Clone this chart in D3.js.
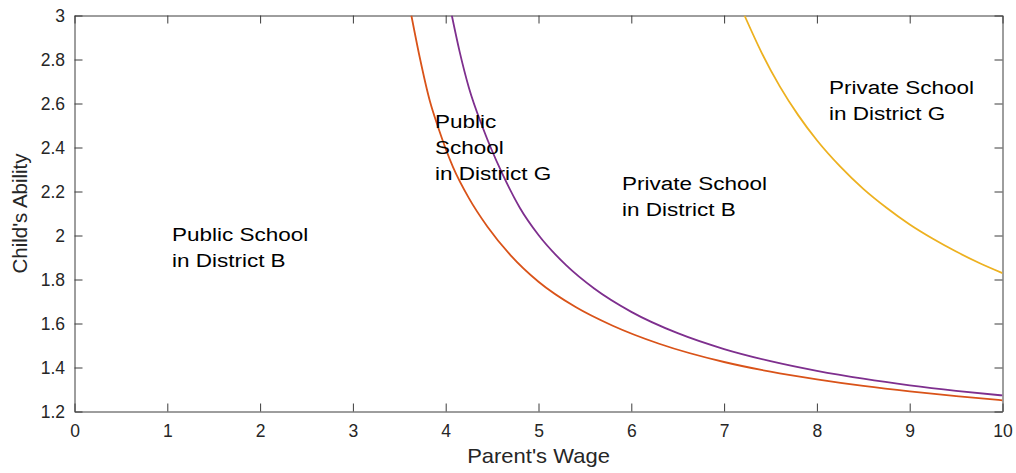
<!DOCTYPE html>
<html>
<head>
<meta charset="utf-8">
<script src="https://cdn.jsdelivr.net/npm/d3@7"></script>
<style>
  html, body { margin: 0; padding: 0; background: #fff; }
  svg { display: block; }
</style>
</head>
<body>
<svg id="chart" width="1016" height="473"></svg>
<script>
// Axis ticks
const xTickValues = [0, 1, 2, 3, 4, 5, 6, 7, 8, 9, 10];
const yTickValues = [1.2, 1.4, 1.6, 1.8, 2, 2.2, 2.4, 2.6, 2.8, 3];

// Threshold: public school in District B  vs  public school in District G
const wageCut1 = [3.63, 3.72, 3.83, 3.92, 4.08, 4.25, 4.45, 4.7, 5.0, 5.4, 5.8, 6.3, 7.0, 7.5, 8.0, 8.5, 9.0, 9.5, 10];
const abilityCut1 = [3.00, 2.81, 2.61, 2.49, 2.31, 2.17, 2.04, 1.91, 1.79, 1.675, 1.59, 1.508, 1.425, 1.381, 1.346, 1.316, 1.291, 1.270, 1.251];

// Threshold: public school in District G  vs  private school in District B
const wageCut2 = [4.066, 4.15, 4.25, 4.4, 4.6, 4.8, 5.0, 5.3, 5.6, 6.0, 6.5, 7.0, 7.5, 8.0, 8.5, 9.0, 9.5, 10];
const abilityCut2 = [3.00, 2.836, 2.672, 2.49, 2.29, 2.125, 2.002, 1.864, 1.759, 1.653, 1.556, 1.484, 1.429, 1.385, 1.349, 1.319, 1.294, 1.273];

// Threshold: private school in District B  vs  private school in District G
const wageCut3 = [7.22, 7.4, 7.6, 7.8, 8.0, 8.25, 8.5, 8.75, 9.0, 9.25, 9.5, 9.75, 10];
const abilityCut3 = [3.00, 2.835, 2.678, 2.546, 2.433, 2.314, 2.212, 2.126, 2.050, 1.985, 1.927, 1.875, 1.829];

// Region names
const regionNames = [
  ["Public School", "in District B"],
  ["Public", "School", "in District G"],
  ["Private School", "in District B"],
  ["Private School", "in District G"]
];

const svg = d3.select("#chart");
const plotLeft = 74.5, plotRight = 1002.5, plotTop = 15.5, plotBottom = 411.5;

const x = d3.scaleLinear().domain([0, 10]).range([plotLeft, plotRight]);
const y = d3.scaleLinear().domain([1.2, 3]).range([plotBottom, plotTop]);

const axisColor = "#3c3c3c";
const fontFamily = "Liberation Sans, Arial, Helvetica, sans-serif";

svg.append("defs").append("clipPath").attr("id", "plotClip")
  .append("rect").attr("x", plotLeft).attr("y", plotTop)
  .attr("width", plotRight - plotLeft).attr("height", plotBottom - plotTop);

// Axes, ticks pointing inward (bottom/left labelled, top/right mirrored)
const tickLen = 8;
const bottomAxis = d3.axisBottom(x).tickValues(xTickValues).tickSizeInner(-tickLen).tickSizeOuter(0).tickFormat(d3.format("d"));
const topAxis = d3.axisTop(x).tickValues(xTickValues).tickSizeInner(-tickLen).tickSizeOuter(0).tickFormat("");
const leftAxis = d3.axisLeft(y).tickValues(yTickValues).tickSizeInner(-tickLen).tickSizeOuter(0).tickFormat(d => String(+d.toFixed(1)));
const rightAxis = d3.axisRight(y).tickValues(yTickValues).tickSizeInner(-tickLen).tickSizeOuter(0).tickFormat("");

function styleAxis(g) {
  g.select(".domain").attr("stroke", axisColor).attr("stroke-width", 1);
  g.selectAll(".tick line").attr("stroke", axisColor).attr("stroke-width", 1);
  g.selectAll(".tick text").attr("fill", "#262626")
    .style("font-family", fontFamily).style("font-size", "17.5px");
}

svg.append("g").attr("transform", `translate(0,${plotBottom})`).call(bottomAxis).call(styleAxis)
  .selectAll(".tick text").attr("dy", null).attr("y", 25.5);
svg.append("g").attr("transform", `translate(0,${plotTop})`).call(topAxis).call(styleAxis);
svg.append("g").attr("transform", `translate(${plotLeft},0)`).call(leftAxis).call(styleAxis)
  .selectAll(".tick text").attr("dy", null).attr("y", 6).attr("x", -9.5);
svg.append("g").attr("transform", `translate(${plotRight},0)`).call(rightAxis).call(styleAxis);

// Threshold curves
const line = d3.line().x(d => x(d[0])).y(d => y(d[1])).curve(d3.curveMonotoneX);
const curves = [
  { w: wageCut1, a: abilityCut1, color: "#D95319" },
  { w: wageCut2, a: abilityCut2, color: "#7E2F8E" },
  { w: wageCut3, a: abilityCut3, color: "#EDB120" }
];
const curveLayer = svg.append("g").attr("clip-path", "url(#plotClip)");
curves.forEach(c => {
  curveLayer.append("path")
    .datum(d3.zip(c.w, c.a))
    .attr("d", line)
    .attr("fill", "none")
    .attr("stroke", c.color)
    .attr("stroke-width", 1.8)
    .attr("stroke-linejoin", "round");
});

// Region labels (anchored at wage / ability of the first baseline)
const labelAnchors = [[1.05, 1.977], [3.885, 2.490], [5.90, 2.206], [8.13, 2.643]];
const lineGap = 26.3;
regionNames.forEach((lines, i) => {
  const [wx, ay] = labelAnchors[i];
  const g = svg.append("g").attr("transform", `translate(${x(wx)},${y(ay)})`);
  lines.forEach((t, k) => {
    g.append("text")
      .attr("transform", `translate(0,${k * lineGap}) scale(1.25,1)`)
      .style("font-family", fontFamily)
      .style("font-size", "18px")
      .attr("fill", "#000")
      .text(t);
  });
});

// Axis titles
svg.append("text")
  .attr("transform", `translate(${(plotLeft + plotRight) / 2},463) scale(1.1,1)`)
  .attr("text-anchor", "middle")
  .style("font-family", fontFamily).style("font-size", "20px")
  .attr("fill", "#262626")
  .text("Parent's Wage");

svg.append("text")
  .attr("transform", `translate(27,${(plotTop + plotBottom) / 2}) rotate(-90)`)
  .attr("text-anchor", "middle")
  .style("font-family", fontFamily).style("font-size", "20.5px")
  .attr("fill", "#262626")
  .text("Child's Ability");
</script>
</body>
</html>
